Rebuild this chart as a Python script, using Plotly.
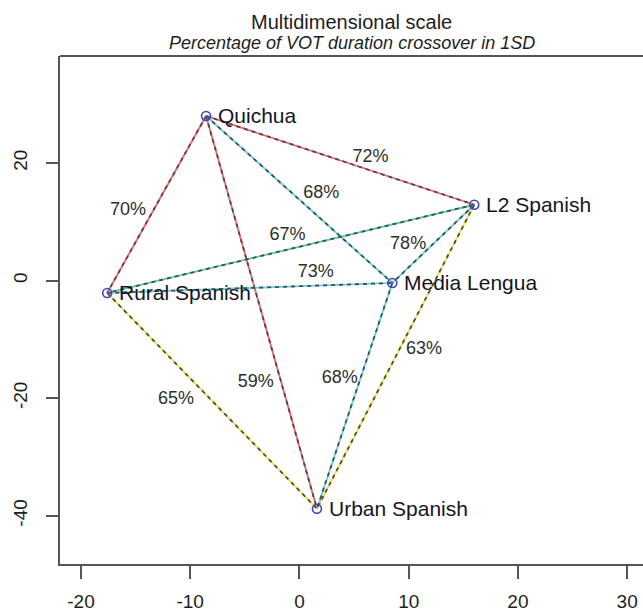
import plotly.graph_objects as go

# Points (MDS coordinates)
names = ["Quichua", "L2 Spanish", "Media Lengua", "Rural Spanish", "Urban Spanish"]
xs = [-8.55, 16.0, 8.5, -17.6, 1.6]
ys = [28.0, 12.9, -0.4, -2.1, -38.8]

# Edges: pairs of point indices, crossover percentage, colour group
edge_from = [0, 0, 0, 0, 1, 1, 1, 3, 3, 2]
edge_to   = [1, 3, 4, 2, 3, 2, 4, 2, 4, 4]
edge_pct  = ["72%", "70%", "59%", "68%", "67%", "78%", "63%", "73%", "65%", "68%"]
edge_col  = ["#f8606a", "#f8606a", "#f8606a", "#5cd4e6", "#4cd0a4", "#5cd4e6",
             "#f4e438", "#5cd4e6", "#f4e438", "#5cd4e6"]
# Label positions for percentages
pct_x = [6.5, -15.7, -4.0, 2.0, -1.1, 9.95, 11.4, 1.5, -11.3, 3.7]
pct_y = [21.0, 12.0, -17.4, 14.9, 7.6, 6.2, -11.8, 1.3, -20.2, -16.6]

xticks = [-20, -10, 0, 10, 20, 30]
xticklabels = ["-20", "-10", "0", "10", "20", "30"]
yticks = [-40, -20, 0, 20]
yticklabels = ["-40", "-20", "0", "20"]

FONT = "Liberation Sans, Arial"

fig = go.Figure()
for a, b, c in zip(edge_from, edge_to, edge_col):
    fig.add_trace(go.Scatter(x=[xs[a], xs[b]], y=[ys[a], ys[b]], mode="lines",
                             line=dict(color=c, width=1.8), hoverinfo="skip", showlegend=False))
    fig.add_trace(go.Scatter(x=[xs[a], xs[b]], y=[ys[a], ys[b]], mode="lines",
                             line=dict(color="#4a4a4a", width=1.8, dash="4px,4px"),
                             hoverinfo="skip", showlegend=False))

fig.add_trace(go.Scatter(x=pct_x, y=pct_y, mode="text", text=edge_pct,
                         textfont=dict(family=FONT, size=18, color="#2e2e2e"),
                         showlegend=False, hoverinfo="skip"))

fig.add_trace(go.Scatter(x=xs, y=ys, mode="markers",
                         marker=dict(symbol="circle-open", size=9, color="#4040c8",
                                     line=dict(width=1.6, color="#4040c8")),
                         showlegend=False))

for n, x, y in zip(names, xs, ys):
    fig.add_annotation(x=x, y=y, text=n, showarrow=False, xanchor="left", xshift=10,
                       font=dict(family=FONT, size=21, color="#151525"))

fig.add_annotation(x=0.5, y=1, xref="paper", yref="paper", yshift=34, yanchor="middle",
                   text="Multidimensional scale", showarrow=False,
                   font=dict(family=FONT, size=20, color="#1e1e1e"))
fig.add_annotation(x=0.5, y=1, xref="paper", yref="paper", yshift=13, yanchor="middle",
                   text="<i>Percentage of VOT duration crossover in 1SD</i>", showarrow=False,
                   font=dict(family=FONT, size=18, color="#1e1e1e"))

# top border of box
fig.add_shape(type="line", xref="paper", yref="paper", x0=0, x1=1, y0=1, y1=1,
              line=dict(color="#555555", width=2))

fig.update_xaxes(range=[-21.92, 31.45], tickvals=xticks, ticktext=xticklabels,
                 ticks="outside", ticklen=13,
                 tickcolor="#555555", tickwidth=1.5, showline=True, linecolor="#555555",
                 linewidth=2, showgrid=False, zeroline=False, automargin=False,
                 ticklabelstandoff=6,
                 tickfont=dict(family=FONT, size=19, color="#1e1e1e"))
fig.update_yaxes(range=[-48.2, 38.2], tickvals=yticks, ticktext=yticklabels,
                 ticks="outside", ticklen=12,
                 tickcolor="#555555", tickwidth=1.5, showline=True, linecolor="#555555",
                 linewidth=2, showgrid=False, zeroline=False, tickangle=-90, automargin=False,
                 ticklabelstandoff=11,
                 tickfont=dict(family=FONT, size=19, color="#1e1e1e"))

fig.update_layout(width=643, height=615, margin=dict(l=60, r=0, t=56, b=51),
                  plot_bgcolor="white", paper_bgcolor="white")
fig.write_html("out.html", config={"displayModeBar": False},
               post_script="document.body.style.margin='0';document.body.style.overflow='hidden';")
